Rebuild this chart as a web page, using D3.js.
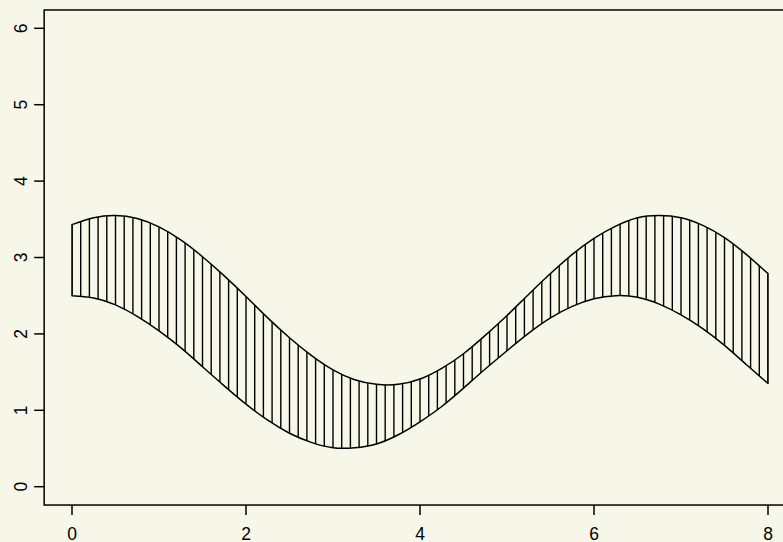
<!DOCTYPE html>
<html>
<head>
<meta charset="utf-8">
<script src="https://cdn.jsdelivr.net/npm/d3@7"></script>
<style>
  html, body { margin: 0; padding: 0; background: #f7f7e9; overflow: hidden; }
  svg { display: block; font-family: "Liberation Sans", Arial, sans-serif; }
</style>
</head>
<body>
<div class="chart"></div>
<script>
// values, one sample every 0.25 along x
var xs = [0, 0.25, 0.5, 0.75, 1, 1.25, 1.5, 1.75, 2, 2.25, 2.5, 2.75, 3, 3.25, 3.5, 3.75,
          4, 4.25, 4.5, 4.75, 5, 5.25, 5.5, 5.75, 6, 6.25, 6.5, 6.75, 7, 7.25, 7.5, 7.75, 8];
var lower = [2.50, 2.47, 2.38, 2.23, 2.04, 1.82, 1.57, 1.32, 1.08, 0.87, 0.70, 0.58, 0.51, 0.51, 0.56, 0.68,
             0.85, 1.05, 1.29, 1.54, 1.78, 2.01, 2.21, 2.36, 2.46, 2.50, 2.48, 2.39, 2.25, 2.07, 1.85, 1.60, 1.35];
var upper = [3.43, 3.52, 3.55, 3.51, 3.40, 3.23, 3.01, 2.76, 2.49, 2.21, 1.95, 1.72, 1.53, 1.40, 1.34, 1.34,
             1.41, 1.55, 1.74, 1.98, 2.24, 2.52, 2.79, 3.04, 3.25, 3.41, 3.52, 3.55, 3.52, 3.42, 3.26, 3.04, 2.79];
var xTicks = [0, 2, 4, 6, 8];
var yTicks = [0, 1, 2, 3, 4, 5, 6];

var width = 783,
    height = 542;

// R style: the box sits 4% outside the data range, and runs off the right edge
var x = d3.scaleLinear().domain([0, 8]).range([72, 768]);
var y = d3.scaleLinear().domain([0, 6]).range([486.7, 28.3]);
var x0 = x(-0.32), x1 = x(8.32), y0 = y(-0.24), y1 = y(6.24);

var data = xs.map(function(d, i) { return {x: d, lo: lower[i], hi: upper[i]}; });

var svg = d3.select(".chart").append("svg")
    .attr("width", width)
    .attr("height", height);

svg.append("rect")
    .attr("width", width)
    .attr("height", height)
    .attr("fill", "#f7f7e9");

var area = d3.area()
    .x(function(d) { return x(d.x); })
    .y0(function(d) { return y(d.lo); })
    .y1(function(d) { return y(d.hi); })
    .curve(d3.curveNatural);

svg.append("clipPath")
    .attr("id", "band")
  .append("path")
    .attr("d", area(data));

// vertical hatching, one line every 0.1 in x
svg.append("g")
    .attr("clip-path", "url(#band)")
  .selectAll("line")
    .data(d3.range(0, 80.5).map(function(i) { return i / 10; }))
  .enter().append("line")
    .attr("x1", function(d) { return x(d); })
    .attr("x2", function(d) { return x(d); })
    .attr("y1", y(6))
    .attr("y2", y(0))
    .attr("stroke", "#000")
    .attr("stroke-width", 1.4);

svg.append("path")
    .attr("d", area(data))
    .attr("fill", "none")
    .attr("stroke", "#000")
    .attr("stroke-width", 1.5)
    .attr("stroke-linejoin", "round");

// box
svg.append("rect")
    .attr("x", x0)
    .attr("y", y1)
    .attr("width", x1 - x0)
    .attr("height", y0 - y1)
    .attr("fill", "none")
    .attr("stroke", "#000")
    .attr("stroke-width", 1.5);

// x axis
var xa = svg.append("g");
xa.selectAll("line")
    .data(xTicks)
  .enter().append("line")
    .attr("x1", function(d) { return x(d); })
    .attr("x2", function(d) { return x(d); })
    .attr("y1", y0)
    .attr("y2", y0 + 10)
    .attr("stroke", "#000")
    .attr("stroke-width", 1.5);
xa.selectAll("text")
    .data(xTicks)
  .enter().append("text")
    .attr("x", function(d) { return x(d); })
    .attr("y", 540)
    .attr("text-anchor", "middle")
    .style("font-size", "17.5px")
    .text(function(d) { return d; });

// y axis, labels turned like R's las = 0
var ya = svg.append("g");
ya.selectAll("line")
    .data(yTicks)
  .enter().append("line")
    .attr("x1", x0 - 10)
    .attr("x2", x0)
    .attr("y1", function(d) { return y(d); })
    .attr("y2", function(d) { return y(d); })
    .attr("stroke", "#000")
    .attr("stroke-width", 1.5);
ya.selectAll("text")
    .data(yTicks)
  .enter().append("text")
    .attr("transform", function(d) { return "translate(27," + y(d) + ") rotate(-90)"; })
    .attr("text-anchor", "middle")
    .style("font-size", "17.5px")
    .text(function(d) { return d; });
</script>
</body>
</html>
